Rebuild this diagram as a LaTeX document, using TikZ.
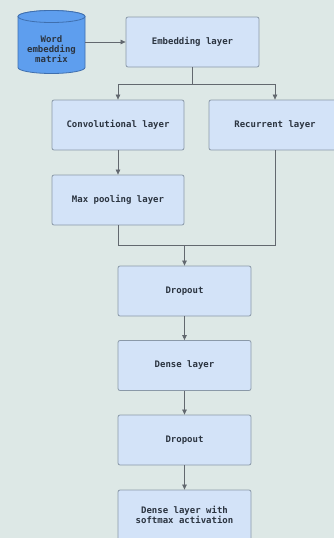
\documentclass[tikz,border=0pt]{standalone}
\usepackage{fontspec}
\setmonofont{DejaVu Sans Mono}
\usetikzlibrary{arrows.meta}
\definecolor{bgcol}{HTML}{DDE8E6}
\definecolor{boxfill}{HTML}{D3E3F8}
\definecolor{boxline}{HTML}{8A99A8}
\definecolor{cylfill}{HTML}{5E9EEE}
\definecolor{cylline}{HTML}{3F6FAE}
\definecolor{linkcol}{HTML}{62686F}
\definecolor{txtcol}{HTML}{2B3440}
\tikzset{
  layerbox/.style={draw=boxline, fill=boxfill, line width=0.8pt, rounded corners=2pt,
    minimum width=133pt, minimum height=50pt, inner sep=0pt,
    font=\ttfamily\bfseries\fontsize{9}{10}\selectfont, text=txtcol, align=center},
  storetext/.style={inner sep=0pt, font=\ttfamily\bfseries\fontsize{9}{10}\selectfont,
    text=txtcol, align=center},
  cylbody/.style={draw=cylline, fill=cylfill, line width=0.8pt},
  link/.style={draw=linkcol, line width=0.7pt},
  arrowlink/.style={link, -{Triangle[length=5pt,width=4.5pt]}}
}
\begin{document}
\begin{tikzpicture}[x=1pt, y=-1pt]
  \useasboundingbox (0,0) rectangle (334,538);
  \fill[bgcol] (0,0) rectangle (334,538);

  % word embedding store: cylinder (x 18..85, y 10..74) with its caption
  \path[cylbody] (18,16.5) -- (18,67.5)
    arc[start angle=180, end angle=0, x radius=33.5, y radius=6]
    -- (85,16.5)
    arc[start angle=0, end angle=-180, x radius=33.5, y radius=6] -- cycle;
  \draw[cylbody] (51.5,16.5) ellipse [x radius=33.5, y radius=6];
  \node[storetext] (wem) at (51.5,49) {Word\\embedding\\matrix};
  \coordinate (wemport) at (85,42);

  \node[layerbox] (emb) at (192.5,42) {Embedding layer};
  \node[layerbox, minimum width=132pt] (conv) at (118,125) {Convolutional layer};
  \node[layerbox, minimum width=132pt] (rec) at (275,125) {Recurrent layer};
  \node[layerbox, minimum width=132pt] (pool) at (118,200) {Max pooling layer};
  \node[layerbox] (drop1) at (184.5,291) {Dropout};
  \node[layerbox] (dense) at (184.5,365.5) {Dense layer};
  \node[layerbox] (drop2) at (184.5,440) {Dropout};
  \node[layerbox] (soft) at (184.5,515) {Dense layer with\\softmax activation};

  \coordinate (split) at (192.5,84);
  \coordinate (merge) at (184.5,245);

  \draw[arrowlink] (wemport) -- (emb.west);
  \draw[link] (emb.south) -- (split);
  \draw[arrowlink] (split) -| (conv.north);
  \draw[arrowlink] (split) -| (rec.north);
  \draw[arrowlink] (conv.south) -- (pool.north);
  \draw[link] (pool.south) |- (merge);
  \draw[link] (rec.south) |- (merge);
  \draw[arrowlink] (merge) -- (drop1.north);
  \draw[arrowlink] (drop1.south) -- (dense.north);
  \draw[arrowlink] (dense.south) -- (drop2.north);
  \draw[arrowlink] (drop2.south) -- (soft.north);
\end{tikzpicture}
\end{document}
